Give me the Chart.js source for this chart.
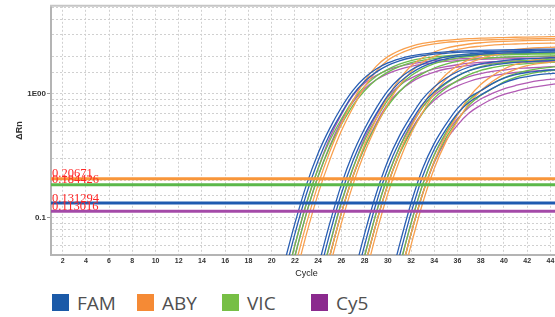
<!DOCTYPE html>
<html><head><meta charset="utf-8">
<script src="https://cdn.jsdelivr.net/npm/chart.js@4.4.1/dist/chart.umd.min.js"></script>
<style>
html,body{margin:0;padding:0;background:#fff;}
body{width:555px;height:317px;overflow:hidden;position:relative;}
#wrap{position:absolute;left:0;top:0;width:562px;height:285px;}
.leg{position:absolute;top:294px;height:17px;display:flex;align-items:center;font-family:'Open Sans',sans-serif;font-weight:400;font-size:19px;color:#505050;white-space:nowrap;}
.leg i{display:inline-block;width:17px;height:17px;margin-right:8px;flex:none;}
</style></head><body>
<div id="wrap"><canvas id="c" width="562" height="285"></canvas></div>
<div id="legend"></div>
<script>
// ---- axes / labels ----
const xTickValues = [2,4,6,8,10,12,14,16,18,20,22,24,26,28,30,32,34,36,38,40,42,44];
const yTickValues = [0.1, 1];
const yTickLabels = ['0.1', '1E00'];
const dyes = ['FAM', 'ABY', 'VIC', 'Cy5'];
const thresholds = [0.131294, 0.20671, 0.184426, 0.113016]; // FAM, ABY, VIC, Cy5

// ---- amplification runs (ΔRn per cycle, starting at the given cycle) ----
const famStart = [21, 21, 24, 24, 27, 27, 30, 30];
const famRuns = [
  [0.040,0.090,0.185,0.332,0.527,0.777,1.07,1.35,1.59,1.78,1.92,2.03,2.10,2.15,2.19,2.22,2.24,2.25,2.26,2.27,2.28,2.29,2.30,2.30,2.31],
  [0.032,0.074,0.156,0.288,0.472,0.697,0.985,1.26,1.50,1.70,1.85,1.96,2.04,2.10,2.13,2.17,2.18,2.20,2.21,2.22,2.23,2.24,2.25,2.25,2.26],
  [0.040,0.090,0.185,0.331,0.524,0.769,1.06,1.33,1.56,1.74,1.88,1.99,2.06,2.11,2.14,2.17,2.19,2.21,2.21,2.23,2.23,2.24],
  [0.032,0.074,0.156,0.288,0.469,0.690,0.970,1.24,1.47,1.66,1.81,1.92,2.00,2.05,2.09,2.12,2.14,2.15,2.16,2.17,2.18,2.19],
  [0.032,0.074,0.156,0.287,0.458,0.662,0.913,1.14,1.34,1.51,1.65,1.75,1.81,1.86,1.90,1.92,1.94,1.96,1.97],
  [0.026,0.060,0.131,0.250,0.409,0.597,0.827,1.04,1.23,1.40,1.54,1.64,1.71,1.76,1.80,1.82,1.84,1.86,1.87],
  [0.026,0.060,0.131,0.250,0.399,0.568,0.765,0.936,1.06,1.21,1.34,1.43,1.49,1.53,1.56,1.58],
  [0.021,0.049,0.109,0.216,0.357,0.515,0.695,0.857,0.979,1.11,1.23,1.32,1.38,1.43,1.46,1.48]
];
const abyStart = [22, 22, 24, 25, 28, 28, 31, 31];
const abyRuns = [
  [0.040,0.090,0.185,0.341,0.570,0.881,1.27,1.67,2.00,2.24,2.42,2.56,2.65,2.71,2.76,2.80,2.82,2.84,2.85,2.87,2.88,2.89,2.90,2.90],
  [0.032,0.074,0.156,0.292,0.501,0.775,1.14,1.52,1.87,2.11,2.30,2.44,2.54,2.61,2.65,2.69,2.72,2.74,2.75,2.77,2.78,2.79,2.80,2.80],
  [0.021,0.049,0.109,0.216,0.388,0.624,0.944,1.31,1.68,1.96,2.18,2.34,2.45,2.53,2.59,2.63,2.66,2.68,2.70,2.71,2.72,2.73],
  [0.040,0.090,0.185,0.336,0.548,0.829,1.17,1.51,1.80,2.01,2.17,2.29,2.38,2.43,2.48,2.51,2.53,2.55,2.56,2.57,2.58],
  [0.040,0.090,0.185,0.334,0.538,0.803,1.12,1.43,1.69,1.89,2.05,2.16,2.24,2.29,2.33,2.36,2.38,2.40],
  [0.032,0.074,0.156,0.289,0.477,0.711,1.01,1.31,1.57,1.77,1.93,2.05,2.13,2.19,2.23,2.26,2.28,2.30],
  [0.032,0.074,0.156,0.287,0.464,0.676,0.942,1.19,1.40,1.59,1.73,1.83,1.91,1.96,1.99],
  [0.026,0.060,0.131,0.250,0.410,0.602,0.838,1.06,1.26,1.44,1.58,1.69,1.76,1.81,1.84]
];
const vicStart = [21, 21, 24, 24, 27, 28, 31, 31];
const vicRuns = [
  [0.026,0.060,0.131,0.250,0.418,0.625,0.888,1.15,1.39,1.58,1.74,1.86,1.94,1.99,2.03,2.06,2.08,2.10,2.11,2.12,2.13,2.14,2.15,2.15,2.16],
  [0.021,0.049,0.109,0.216,0.371,0.565,0.809,1.06,1.30,1.50,1.66,1.79,1.87,1.93,1.98,2.01,2.03,2.05,2.06,2.07,2.08,2.09,2.10,2.10,2.11],
  [0.027,0.061,0.133,0.252,0.421,0.630,0.893,1.16,1.40,1.60,1.76,1.87,1.95,2.00,2.04,2.07,2.09,2.11,2.12,2.13,2.14,2.15],
  [0.021,0.049,0.109,0.216,0.370,0.560,0.799,1.04,1.27,1.46,1.62,1.74,1.83,1.89,1.93,1.96,1.98,2.00,2.01,2.02,2.03,2.04],
  [0.021,0.049,0.109,0.216,0.368,0.551,0.778,1.01,1.21,1.39,1.54,1.66,1.74,1.79,1.84,1.86,1.88,1.90,1.91],
  [0.040,0.090,0.185,0.325,0.495,0.700,0.924,1.11,1.28,1.43,1.55,1.63,1.69,1.73,1.76,1.78,1.80,1.81],
  [0.040,0.090,0.185,0.323,0.488,0.682,0.891,1.06,1.21,1.35,1.46,1.54,1.60,1.64,1.67],
  [0.032,0.074,0.156,0.284,0.440,0.612,0.812,0.973,1.10,1.25,1.36,1.44,1.50,1.54,1.56]
];
const cy5Start = [21, 21, 24, 24, 27, 28, 31, 31];
const cy5Runs = [
  [0.026,0.060,0.131,0.250,0.44,0.68,0.97,1.22,1.41,1.56,1.67,1.75,1.81,1.86,1.89,1.92,1.94,1.95,1.96,1.97,1.98,1.99,2.00,2.00,2.01],
  [0.021,0.049,0.109,0.216,0.38,0.60,0.86,1.10,1.30,1.46,1.58,1.67,1.74,1.79,1.83,1.86,1.88,1.90,1.91,1.92,1.93,1.94,1.94,1.95,1.95],
  [0.026,0.060,0.131,0.250,0.44,0.67,0.94,1.17,1.34,1.48,1.59,1.66,1.72,1.77,1.80,1.82,1.84,1.85,1.86,1.87,1.88,1.89],
  [0.021,0.049,0.109,0.216,0.37,0.58,0.83,1.05,1.24,1.39,1.50,1.59,1.65,1.70,1.74,1.77,1.79,1.80,1.81,1.82,1.83,1.84],
  [0.021,0.049,0.109,0.216,0.37,0.57,0.79,0.98,1.14,1.27,1.38,1.46,1.52,1.56,1.60,1.62,1.64,1.66,1.67],
  [0.040,0.090,0.185,0.33,0.51,0.71,0.89,1.04,1.16,1.26,1.34,1.40,1.45,1.49,1.52,1.54,1.56,1.57],
  [0.040,0.090,0.185,0.32,0.47,0.63,0.78,0.91,1.01,1.10,1.17,1.23,1.28,1.31,1.33],
  [0.032,0.074,0.156,0.28,0.42,0.56,0.70,0.81,0.91,0.99,1.05,1.11,1.15,1.19,1.22]
];

// ---- styles ----
const legendColors = ['#1b5aa8', '#f58a35', '#77bf45', '#8b2a8e'];
const curveColors  = ['#2a5fb3', '#f8a04e', '#6dbe4c', '#b25bb4'];
const threshColors = ['#1f5ab0', '#f8963a', '#5cb84a', '#a44aa8'];

const runsByDye = [[famStart, famRuns], [abyStart, abyRuns], [vicStart, vicRuns], [cy5Start, cy5Runs]];

const datasets = [];
// thresholds first -> drawn on top
thresholds.forEach((t, i) => {
  datasets.push({
    label: dyes[i] + ' threshold',
    data: [{x: 1, y: t}, {x: 45, y: t}],
    borderColor: threshColors[i], borderWidth: 3, tension: 0, pointRadius: 0
  });
});
runsByDye.forEach(([starts, runs], d) => {
  runs.forEach((vals, r) => {
    datasets.push({
      label: dyes[d],
      data: vals.map((v, k) => ({x: starts[r] + k, y: v})),
      borderColor: curveColors[d], borderWidth: 1.3,
      cubicInterpolationMode: 'monotone', pointRadius: 0
    });
  });
});

function yLabelIndex(v) {
  return yTickValues.findIndex(t => Math.abs(t - v) < 1e-9 * Math.max(1, t));
}

const thresholdLabelPlugin = {
  id: 'thresholdLabels',
  afterDatasetsDraw(chart) {
    const {ctx, chartArea: a, scales: {y}} = chart;
    ctx.save();
    ctx.beginPath(); ctx.rect(a.left, a.top, a.right - a.left, a.bottom - a.top); ctx.clip();
    ctx.fillStyle = '#ff2626';
    ctx.font = '12.5px "Liberation Serif", "DejaVu Serif", serif';
    ctx.textBaseline = 'alphabetic';
    ctx.textAlign = 'left';
    thresholds.forEach(t => {
      ctx.fillText(String(t), a.left + 1, y.getPixelForValue(t) - 1.5);
    });
    ctx.restore();
  },
  afterDraw(chart) {
    const {ctx, chartArea: a} = chart;
    ctx.save();
    ctx.strokeStyle = '#c6c6c6'; ctx.lineWidth = 2;
    ctx.beginPath(); ctx.moveTo(a.left - 1, a.top); ctx.lineTo(a.right, a.top); ctx.stroke();
    ctx.restore();
  }
};

new Chart(document.getElementById('c'), {
  type: 'line',
  data: {datasets},
  plugins: [thresholdLabelPlugin],
  options: {
    responsive: false, animation: false, devicePixelRatio: 1,
    layout: {padding: {left: 0, right: 0, top: 5, bottom: 0}},
    plugins: {legend: {display: false}, tooltip: {enabled: false}},
    scales: {
      x: {
        type: 'linear', min: 1, max: 45,
        afterBuildTicks: s => { s.ticks = xTickValues.map(v => ({value: v})); },
        afterFit: s => { s.height = 30; },
        ticks: {autoSkip: false, maxRotation: 0, padding: 2, color: '#333',
                font: {family: '"Liberation Sans", Arial, sans-serif', size: 7, weight: 'bold'}},
        grid: {color: '#d0d0d0', drawTicks: false},
        border: {dash: [2, 2], color: '#b4b4b4', width: 2},
        title: {display: true, text: 'Cycle', color: '#222', padding: 6,
                font: {family: '"Liberation Sans", Arial, sans-serif', size: 9}}
      },
      y: {
        type: 'logarithmic', min: 0.05, max: 5.15,
        afterFit: s => { s.width = 51; },
        ticks: {autoSkip: false, padding: 1, color: '#333',
                font: {family: '"Liberation Sans", Arial, sans-serif', size: 8, weight: 'bold'},
                callback: v => { const i = yLabelIndex(v); return i >= 0 ? yTickLabels[i] : ''; }},
        grid: {color: '#d0d0d0', tickLength: 4,
               tickColor: c => (c.tick && yLabelIndex(c.tick.value) >= 0) ? '#999' : 'rgba(0,0,0,0)'},
        border: {dash: [2, 2], color: '#b4b4b4', width: 2},
        title: {display: true, text: 'ΔRn', color: '#333', padding: 14,
                font: {family: '"Liberation Sans", Arial, sans-serif', size: 9, weight: 'bold'}}
      }
    }
  }
});

// HTML legend
const legendLeft = [52, 137, 222, 311];
const legendEl = document.getElementById('legend');
dyes.forEach((name, i) => {
  const item = document.createElement('div');
  item.className = 'leg';
  item.style.left = legendLeft[i] + 'px';
  item.innerHTML = '<i style="background:' + legendColors[i] + '"></i><span>' + name + '</span>';
  legendEl.appendChild(item);
});
</script>
</body></html>
